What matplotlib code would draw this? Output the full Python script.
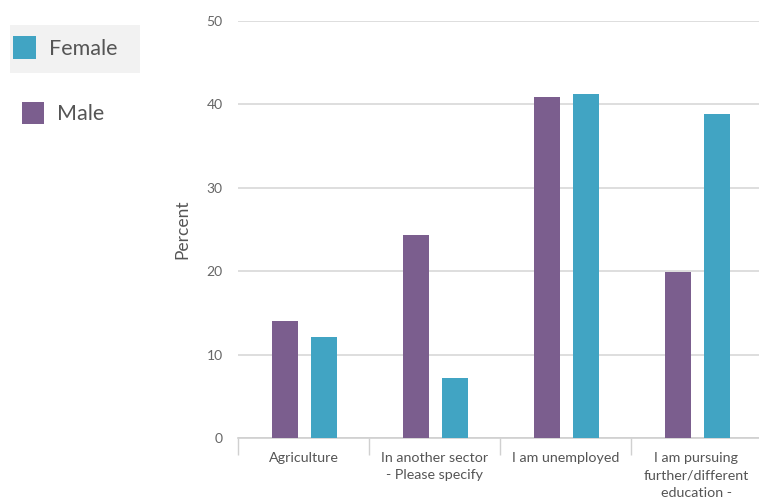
import numpy as np
import matplotlib.pyplot as plt
from matplotlib.patches import Rectangle

plt.rcParams['font.family'] = ['Lato', 'DejaVu Sans']

categories = [
    "Agriculture",
    "In another sector\n- Please specify",
    "I am unemployed",
    "I am pursuing\nfurther/different\neducation -",
]
series_names = ["Female", "Male"]
female = [12.1, 7.2, 41.2, 38.8]
male = [14.0, 24.4, 40.9, 19.9]

PURPLE = "#7b5e8e"
TEAL = "#41a4c3"

W, H = 759, 500
fig = plt.figure(figsize=(W / 100, H / 100), dpi=100)
ax = fig.add_axes([238 / W, 1 - 438 / H, 524 / W, 417 / H])

x = np.arange(len(categories))
bw = 0.195
ax.bar(x - 0.14, male, width=bw, color=PURPLE, zorder=3)
ax.bar(x + 0.155, female, width=bw, color=TEAL, zorder=3)

ax.set_xlim(-0.5, len(categories) - 0.5)
ax.set_ylim(0, 50)
ax.set_yticks(range(0, 51, 10))
ax.yaxis.grid(True, color="#d8d8d8", linewidth=1.2, zorder=0)
ax.set_axisbelow(True)
for s in ["top", "right", "left"]:
    ax.spines[s].set_visible(False)
ax.spines["bottom"].set_color("#cfcfcf")
ax.spines["bottom"].set_linewidth(1.2)

ax.tick_params(axis="y", length=0, pad=11, labelsize=10, labelcolor="#666666")
ax.set_xticks(x)
ax.set_xticklabels(categories, fontsize=10.3, color="#555555", linespacing=1.55)
ax.tick_params(axis="x", length=0, pad=10)
# separators between the category groups
ax.set_xticks(np.arange(len(categories) + 1) - 0.5, minor=True)
ax.tick_params(axis="x", which="minor", length=12, color="#d0d0d0", width=1)

ax.set_ylabel("Percent", fontsize=12.5, color="#555555", labelpad=12)

# legend panel on the left
def px(xp, yp):
    return xp / W, 1 - yp / H

fig.add_artist(Rectangle(px(10, 73), 130 / W, 48 / H, transform=fig.transFigure,
                         facecolor="#f2f2f2", edgecolor="none"))
fig.add_artist(Rectangle(px(13, 59), 23 / W, 23 / H, transform=fig.transFigure,
                         facecolor=TEAL, edgecolor="none"))
fig.text(*px(49, 49), series_names[0], fontsize=15.5, color="#555555", va="center")
fig.add_artist(Rectangle(px(22, 124), 22 / W, 22 / H, transform=fig.transFigure,
                         facecolor=PURPLE, edgecolor="none"))
fig.text(*px(57, 114), series_names[1], fontsize=15.5, color="#555555", va="center")

fig.savefig("out.png", dpi=100)
